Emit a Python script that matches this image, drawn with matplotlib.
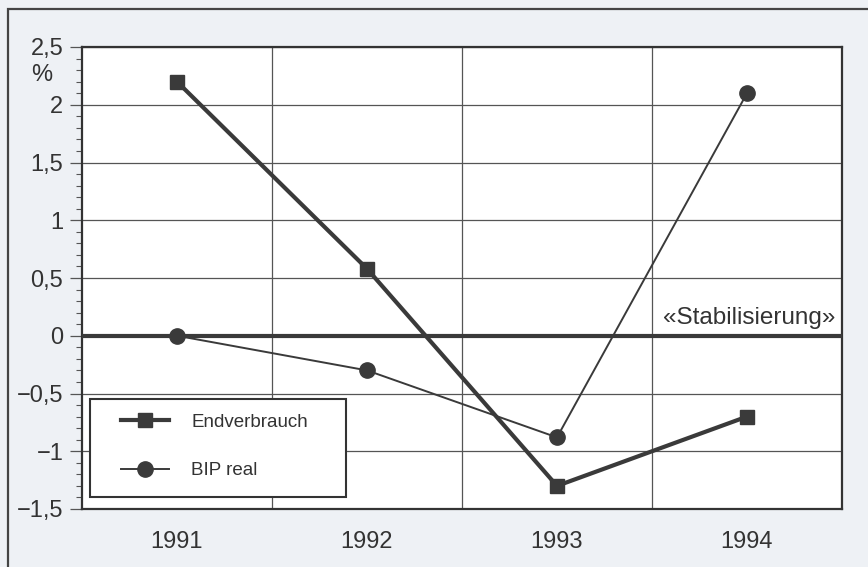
import matplotlib
matplotlib.use("Agg")
import matplotlib.pyplot as plt
from matplotlib.ticker import MultipleLocator, FixedLocator
from matplotlib.transforms import blended_transform_factory
from matplotlib.patches import Rectangle

plt.rcParams['font.family'] = ['Liberation Sans', 'DejaVu Sans']

years = ['1991', '1992', '1993', '1994']
endverbrauch = [2.2, 0.58, -1.3, -0.7]
bip_real = [0.0, -0.3, -0.88, 2.1]
y_ticks = [-1.5, -1, -0.5, 0, 0.5, 1, 1.5, 2, 2.5]
y_labels = ['\u22121,5', '\u22121', '\u22120,5', '0', '0,5', '1', '1,5', '2', '2,5']

dark = '#3a3a3a'
fig = plt.figure(figsize=(8.68, 5.67), dpi=100, facecolor='#eef1f5')

# outer frame of the scanned figure
fig.patches.append(Rectangle((8 / 868, -0.1), 1.2, 1 - 9 / 567 + 0.1,
                             transform=fig.transFigure, fill=False,
                             edgecolor='#444444', linewidth=1.6))

ax = fig.add_axes([82 / 868, 58 / 567, 760 / 868, 462 / 567])
ax.set_facecolor('white')
x = list(range(len(years)))

ax.plot(x, endverbrauch, color=dark, linewidth=3.0, marker='s',
        markersize=10, label='Endverbrauch', zorder=4)
ax.plot(x, bip_real, color=dark, linewidth=1.4, marker='o',
        markersize=11, label='BIP real', zorder=4)

ax.axhline(0, color=dark, linewidth=3.0, zorder=3)

ax.set_xlim(-0.5, 3.5)
ax.set_ylim(-1.5, 2.5)
ax.set_xticks(x)
ax.set_xticklabels(years, fontsize=17, color='#333333')
ax.tick_params(axis='x', length=0, pad=16)
ax.set_yticks(y_ticks)
ax.set_yticklabels(y_labels, fontsize=17, color='#333333')
ax.yaxis.set_minor_locator(MultipleLocator(0.1))
ax.tick_params(axis='y', which='major', length=8.5, width=0.9,
               color='#555555', pad=5)
ax.tick_params(axis='y', which='minor', length=4.5, width=0.8,
               color='#555555')

# grid: horizontal at major ticks, vertical between categories
ax.xaxis.set_minor_locator(FixedLocator([0.5, 1.5, 2.5]))
ax.grid(True, axis='y', which='major', color='#555555', linewidth=0.9)
ax.grid(True, axis='x', which='minor', color='#555555', linewidth=0.9)
ax.tick_params(axis='x', which='minor', length=0)
ax.set_axisbelow(True)

for s in ax.spines.values():
    s.set_color('#333333')
    s.set_linewidth(1.6)

trans = blended_transform_factory(ax.transAxes, ax.transData)
ax.text(-0.053, 2.26, '%', transform=trans, ha='center', va='center',
        fontsize=17, color='#333333')
ax.text(0.991, 0.155, '\u00abStabilisierung\u00bb', transform=trans,
        ha='right', va='center', fontsize=17.5, color='#333333')

# legend box drawn separately, legend entries placed inside it
ax.add_patch(Rectangle((0.0105, 0.026), 0.337, 0.212, transform=ax.transAxes,
                       facecolor='white', edgecolor='#333333',
                       linewidth=1.5, zorder=5))
leg = ax.legend(loc='center left', bbox_to_anchor=(0.0513, 0.135),
                fontsize=13.5, frameon=False, handlelength=2.55,
                handletextpad=1.2, labelspacing=1.67, borderpad=0,
                borderaxespad=0)
leg.set_zorder(6)
for t in leg.get_texts():
    t.set_color('#333333')

fig.savefig('out.png', dpi=100, facecolor=fig.get_facecolor())
